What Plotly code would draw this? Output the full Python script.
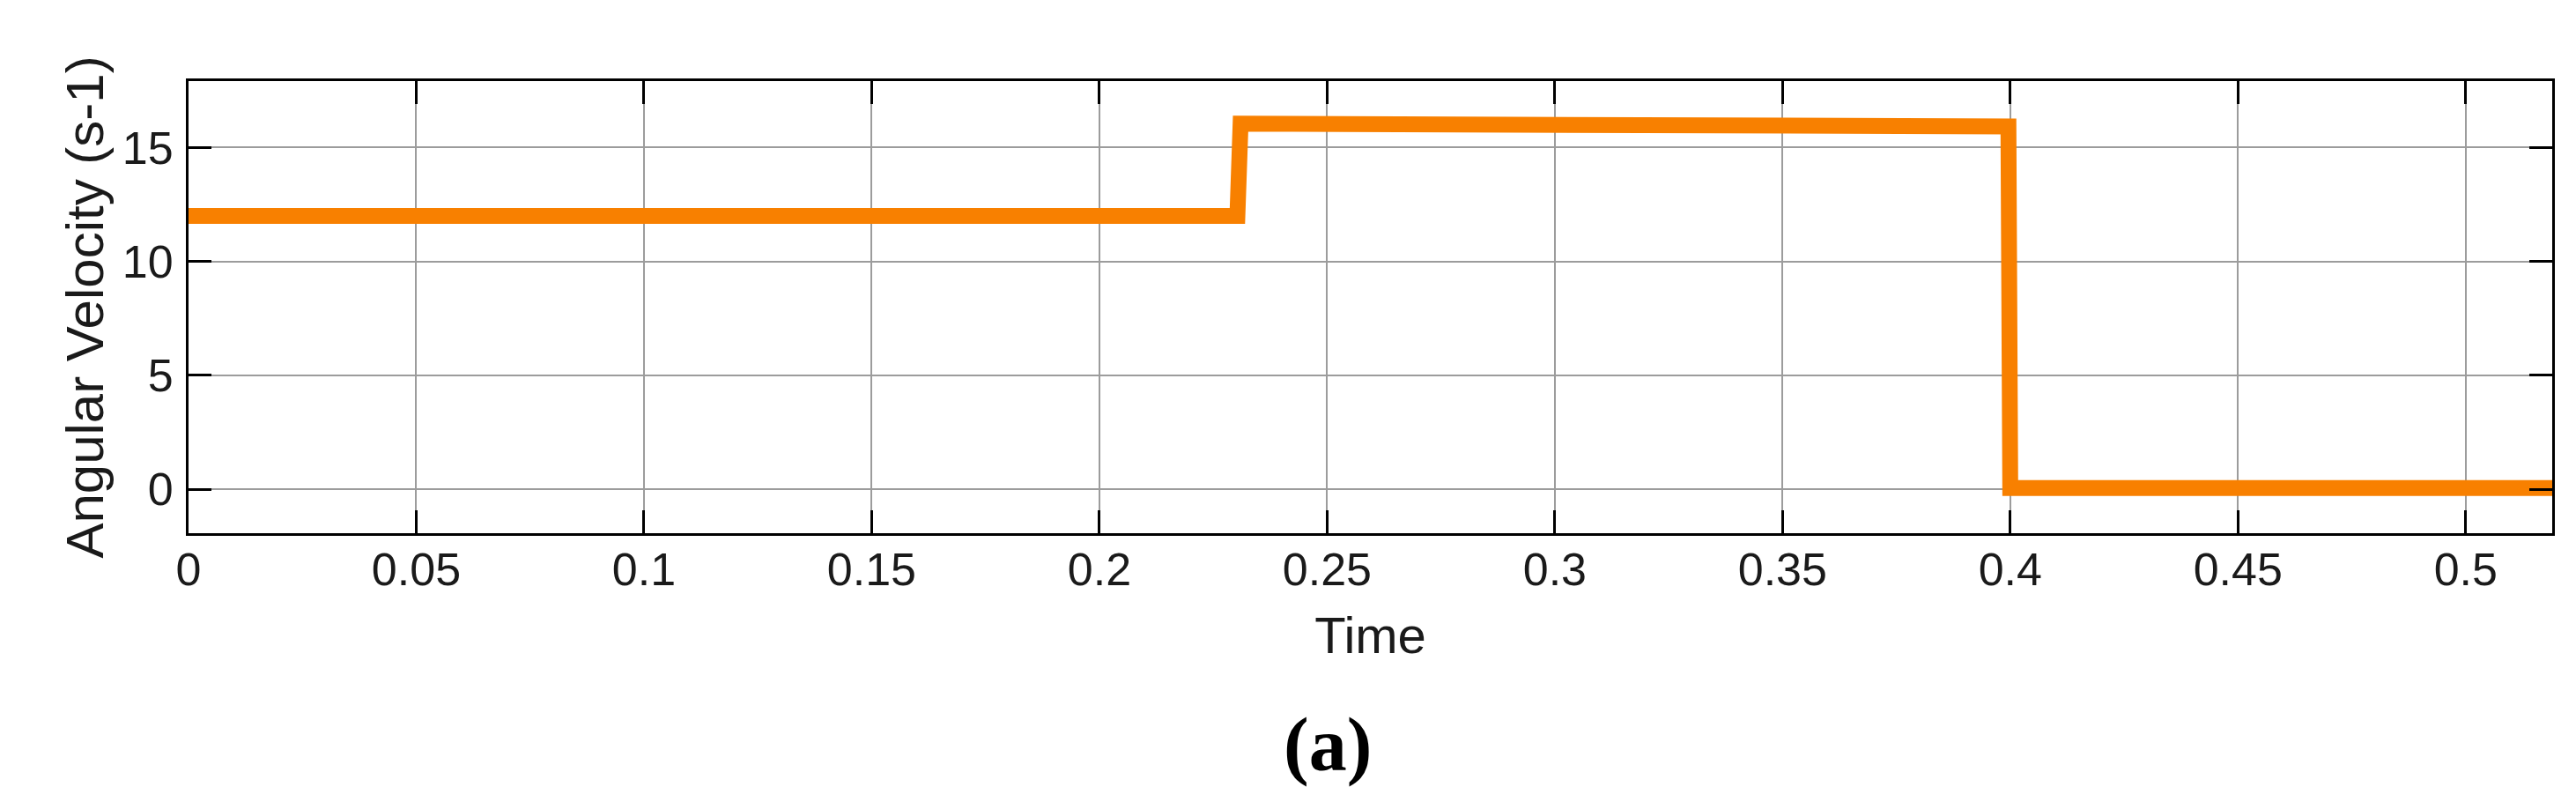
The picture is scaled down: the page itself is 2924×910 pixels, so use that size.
import plotly.graph_objects as go

# Data
time = [0.0, 0.2303, 0.2310, 0.3996, 0.4000, 0.519]
ang_vel = [12.0, 12.0, 16.05, 15.93, 0.05, 0.05]

x_ticks = [0, 0.05, 0.1, 0.15, 0.2, 0.25, 0.3, 0.35, 0.4, 0.45, 0.5]
x_ticklabels = ["0", "0.05", "0.1", "0.15", "0.2", "0.25", "0.3", "0.35", "0.4", "0.45", "0.5"]
y_ticks = [0, 5, 10, 15]
y_ticklabels = ["0", "5", "10", "15"]

x_title = "Time"
y_title = "Angular Velocity (s-1)"
caption = "(a)"

fig = go.Figure()
fig.add_trace(go.Scatter(
    x=time, y=ang_vel, mode="lines",
    line=dict(color="#F88000", width=18),
    showlegend=False, hoverinfo="skip",
))

font_family = "Liberation Sans, Arial, sans-serif"
axis_common = dict(
    showline=True, linecolor="black", linewidth=3, mirror="ticks",
    ticks="inside", ticklen=26, tickwidth=3, tickcolor="black",
    showgrid=True, gridcolor="#9c9c9c", gridwidth=2,
    zeroline=False,
    tickfont=dict(family=font_family, size=52, color="#1a1a1a"),
)

fig.update_xaxes(
    range=[0, 0.519], tickvals=x_ticks, ticktext=x_ticklabels,
    title=dict(text=x_title, font=dict(family=font_family, size=58, color="#1a1a1a"), standoff=26),
    ticklabelstandoff=-6,
    **axis_common,
)
fig.update_yaxes(
    range=[-1.93, 17.92], tickvals=y_ticks, ticktext=y_ticklabels,
    title=dict(text=y_title, font=dict(family=font_family, size=60, color="#1a1a1a"), standoff=2),
    ticklabelstandoff=4,
    **axis_common,
)

fig.add_annotation(
    text="<b>" + caption + "</b>", xref="paper", yref="paper",
    x=(1499 - 206) / (2889 - 206), y=-(837 - 597) / (597 - 84),
    xanchor="center", yanchor="middle", showarrow=False,
    font=dict(family="Liberation Serif, Times New Roman, serif", size=86, color="black"),
)

fig.update_layout(
    width=2924, height=910,
    margin=dict(l=206, r=35, t=84, b=313, autoexpand=False),
    paper_bgcolor="white", plot_bgcolor="white",
)

fig.write_html("out.html")
